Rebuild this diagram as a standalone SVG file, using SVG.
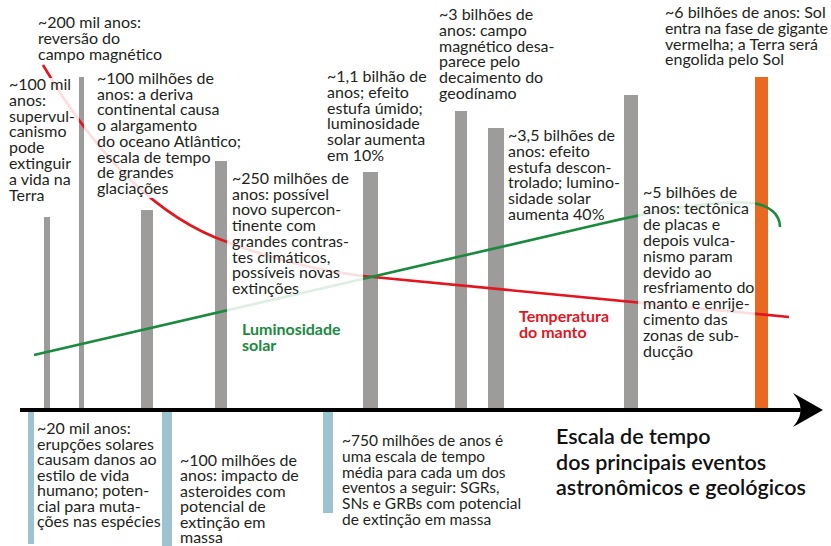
<svg xmlns="http://www.w3.org/2000/svg" width="831" height="546" viewBox="0 0 831 546">
<style>
.t{font-family:Lato,"Open Sans","DejaVu Sans",sans-serif;font-size:16px;fill:#231f20}
.s{font-size:15.5px}
.bar{fill:#9d9c9a}
.blue{fill:#9dc3d1}
.fade{fill:#fff;opacity:0.86}
.lbl{font-family:Lato,"Open Sans","DejaVu Sans",sans-serif;font-size:16px;font-weight:bold}
.title{font-family:Lato,"Open Sans","DejaVu Sans",sans-serif;font-size:21.5px;font-weight:600;fill:#111}
</style>
<rect width="831" height="546" fill="#fff"/>
<g id="bars">
<rect id="bar1" class="bar" x="44" y="217" width="6" height="192"/>
<rect id="bar2" class="bar" x="79" y="77" width="5" height="332"/>
<rect id="bar3" class="bar" x="141" y="210" width="12" height="199"/>
<rect id="bar4" class="bar" x="215" y="161" width="12" height="248"/>
<rect id="bar5" class="bar" x="363" y="172" width="15" height="237"/>
<rect id="bar6" class="bar" x="455" y="111" width="12" height="298"/>
<rect id="bar7" class="bar" x="488" y="128" width="16" height="281"/>
<rect id="bar8" class="bar" x="624" y="95" width="14" height="314"/>
<rect id="bar9" x="755" y="77" width="13" height="332" fill="#e8691f"/>
<rect id="blue1" class="blue" x="28" y="412" width="6" height="132"/>
<rect id="blue2" class="blue" x="162" y="412" width="10" height="134"/>
<rect id="blue3" class="blue" x="323" y="412" width="10" height="101"/>
</g>
<g id="connectors">
<path id="temperature" d="M43,65 C90,145 150,215 227,242 C265,256 310,270 363,276 L789,317" fill="none" stroke="#e2161f" stroke-width="2.6"/>
<path id="luminosity" d="M34,355 L600,224 C660,210 720,200 752,203 C770,205 780,215 780,227" fill="none" stroke="#1a8a3e" stroke-width="2.6"/>
<path id="axis" d="M20,410 H800" stroke="#000" stroke-width="4"/>
<path id="arrowhead" d="M823,410 L793,393 Q802,404 800,410 Q802,416 793,427 Z" fill="#000"/>
</g>
<g id="fades">
<rect class="fade" x="8" y="78" width="71" height="128"/>
<rect class="fade" x="84" y="70" width="131" height="128"/>
<rect class="fade" x="227" y="168" width="136" height="148"/>
<rect class="fade" x="638" y="183" width="117" height="180"/>
</g>
<g id="n200mil">
<text class="t" x="38" y="28"><tspan x="38">~200 mil anos:</tspan><tspan x="38" dy="15.8">reversão do</tspan><tspan x="38" dy="15.8">campo magnético</tspan></text>
</g>
<g id="n100mil">
<text class="t" x="9" y="90"><tspan x="9">~100 mil</tspan><tspan x="9" dy="15.8">anos:</tspan><tspan x="9" dy="15.8">supervul-</tspan><tspan x="9" dy="15.8">canismo</tspan><tspan x="9" dy="15.8">pode</tspan><tspan x="9" dy="15.8">extinguir</tspan><tspan x="9" dy="15.8">a vida na</tspan><tspan x="9" dy="15.8">Terra</tspan></text>
</g>
<g id="n100milhoes">
<text class="t" x="97" y="84"><tspan x="97">~100 milhões de</tspan><tspan x="97" dy="15.7">anos: a deriva</tspan><tspan x="97" dy="15.7">continental causa</tspan><tspan x="97" dy="15.7">o alargamento</tspan><tspan x="97" dy="15.7">do oceano Atlântico;</tspan><tspan x="97" dy="15.7">escala de tempo</tspan><tspan x="97" dy="15.7">de grandes</tspan><tspan x="97" dy="15.7">glaciações</tspan></text>
</g>
<g id="n250milhoes">
<text class="t" x="232" y="184"><tspan x="232">~250 milhões de</tspan><tspan x="232" dy="15.7">anos: possível</tspan><tspan x="232" dy="15.7">novo supercon-</tspan><tspan x="232" dy="15.7">tinente com</tspan><tspan x="232" dy="15.7">grandes contras-</tspan><tspan x="232" dy="15.7">tes climáticos,</tspan><tspan x="232" dy="15.7">possíveis novas</tspan><tspan x="232" dy="15.7">extinções</tspan></text>
</g>
<g id="n11bilhao">
<text class="t" x="327" y="82"><tspan x="327">~1,1 bilhão de</tspan><tspan x="327" dy="15.8">anos; efeito</tspan><tspan x="327" dy="15.8">estufa úmido;</tspan><tspan x="327" dy="15.8">luminosidade</tspan><tspan x="327" dy="15.8">solar aumenta</tspan><tspan x="327" dy="15.8">em 10%</tspan></text>
</g>
<g id="n3bilhoes">
<text class="t" x="439" y="20"><tspan x="439">~3 bilhões de</tspan><tspan x="439" dy="15.8">anos: campo</tspan><tspan x="439" dy="15.8">magnético desa-</tspan><tspan x="439" dy="15.8">parece pelo</tspan><tspan x="439" dy="15.8">decaimento do</tspan><tspan x="439" dy="15.8">geodínamo</tspan></text>
</g>
<g id="n35bilhoes">
<text class="t" x="508" y="141"><tspan x="508">~3,5 bilhões de</tspan><tspan x="508" dy="15.8">anos: efeito</tspan><tspan x="508" dy="15.8">estufa descon-</tspan><tspan x="508" dy="15.8">trolado; lumino-</tspan><tspan x="508" dy="15.8">sidade solar</tspan><tspan x="508" dy="15.8">aumenta 40%</tspan></text>
</g>
<g id="n5bilhoes">
<text class="t" x="643" y="198"><tspan x="643">~5 bilhões de</tspan><tspan x="643" dy="15.9">anos: tectônica</tspan><tspan x="643" dy="15.9">de placas e</tspan><tspan x="643" dy="15.9">depois vulca-</tspan><tspan x="643" dy="15.9">nismo param</tspan><tspan x="643" dy="15.9">devido ao</tspan><tspan x="643" dy="15.9">resfriamento do</tspan><tspan x="643" dy="15.9">manto e enrije-</tspan><tspan x="643" dy="15.9">cimento das</tspan><tspan x="643" dy="15.9">zonas de sub-</tspan><tspan x="643" dy="15.9">ducção</tspan></text>
</g>
<g id="n6bilhoes">
<text class="t" x="665" y="18"><tspan x="665">~6 bilhões de anos: Sol</tspan><tspan x="665" dy="15.8" letter-spacing="-0.2">entra na fase de gigante</tspan><tspan x="665" dy="15.8">vermelha; a Terra será</tspan><tspan x="665" dy="15.8">engolida pelo Sol</tspan></text>
</g>
<g id="lumLabel">
<text class="lbl" x="242" y="335" fill="#1a8a3e"><tspan x="242">Luminosidade</tspan><tspan x="242" dy="16">solar</tspan></text>
</g>
<g id="tempLabel">
<text class="lbl" x="519" y="322" fill="#e2161f"><tspan x="519">Temperatura</tspan><tspan x="519" dy="16">do manto</tspan></text>
</g>
<g id="n20mil">
<text class="t" x="37" y="434"><tspan x="37">~20 mil anos:</tspan><tspan x="37" dy="15.5">erupções solares</tspan><tspan x="37" dy="15.5">causam danos ao</tspan><tspan x="37" dy="15.5">estilo de vida</tspan><tspan x="37" dy="15.5">humano; poten-</tspan><tspan x="37" dy="15.5">cial para muta-</tspan><tspan x="37" dy="15.5">ções nas espécies</tspan></text>
</g>
<g id="n100milhoesImpacto">
<text class="t" x="180" y="466"><tspan x="180">~100 milhões de</tspan><tspan x="180" dy="15.4">anos: impacto de</tspan><tspan x="180" dy="15.4">asteroides com</tspan><tspan x="180" dy="15.4">potencial de</tspan><tspan x="180" dy="15.4">extinção em</tspan><tspan x="180" dy="15.4">massa</tspan></text>
</g>
<g id="n750milhoes">
<text class="t s" x="342" y="446"><tspan x="342">~750 milhões de anos é</tspan><tspan x="342" dy="15.8">uma escala de tempo</tspan><tspan x="342" dy="15.8">média para cada um dos</tspan><tspan x="342" dy="15.8">eventos a seguir: SGRs,</tspan><tspan x="342" dy="15.8">SNs e GRBs com potencial</tspan><tspan x="342" dy="15.8">de extinção em massa</tspan></text>
</g>
<g id="title">
<text class="title" x="556" y="444"><tspan x="556">Escala de tempo</tspan><tspan x="556" dy="25.5">dos principais eventos</tspan><tspan x="556" dy="25.5">astronômicos e geológicos</tspan></text>
</g>
</svg>
